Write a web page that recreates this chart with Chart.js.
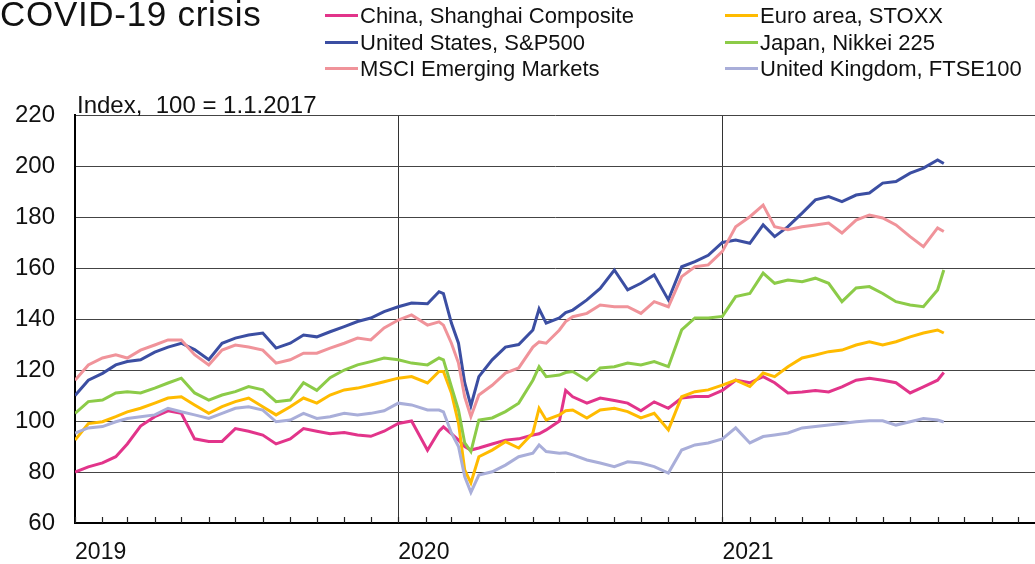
<!DOCTYPE html>
<html>
<head>
<meta charset="utf-8">
<script src="https://cdn.jsdelivr.net/npm/chart.js@4.4.0/dist/chart.umd.min.js"></script>
<style>
  html, body { margin: 0; padding: 0; background: #fff; }
  body { width: 1035px; height: 564px; overflow: hidden; position: relative; font-family: 'Liberation Sans', Arial, sans-serif; color: #111; }
  #wrap { position: absolute; left: -19px; top: 0; width: 1054px; height: 582px; }
  #title { position: absolute; left: 0; top: -6px; font-size: 35px; letter-spacing: 0.7px; white-space: nowrap; }
  #unit { position: absolute; left: 77px; top: 91px; font-size: 24px; white-space: nowrap; }
  .leg { position: absolute; font-size: 22px; white-space: nowrap; line-height: 26px; }
  .leg span.sw { display: inline-block; width: 33px; height: 3px; vertical-align: middle; margin-right: 2px; position: relative; top: -2px; }
</style>
</head>
<body>
<div id="wrap"><canvas id="chart" width="1054" height="582"></canvas></div>
<div id="title">COVID-19 crisis</div>
<div id="unit">Index,&nbsp; 100 = 1.1.2017</div>
<div id="legend"></div>
<script>
// semi-monthly observation dates (plus a few extra around the crash)
const dates = [
  "2019-01-01","2019-01-16","2019-02-01","2019-02-16","2019-03-01","2019-03-16","2019-04-01","2019-04-16",
  "2019-05-01","2019-05-16","2019-06-01","2019-06-16","2019-07-01","2019-07-16","2019-08-01","2019-08-16",
  "2019-09-01","2019-09-16","2019-10-01","2019-10-16","2019-11-01","2019-11-16","2019-12-01","2019-12-16",
  "2020-01-01","2020-01-16","2020-02-03","2020-02-16","2020-02-21","2020-03-01","2020-03-09","2020-03-16",
  "2020-03-23","2020-04-01","2020-04-16","2020-05-01","2020-05-16","2020-06-01","2020-06-08","2020-06-16",
  "2020-07-01","2020-07-08","2020-07-16","2020-08-01","2020-08-16","2020-09-01","2020-09-16","2020-10-01","2020-10-16",
  "2020-11-01","2020-11-16","2020-12-01","2020-12-16",
  "2021-01-01","2021-01-16","2021-02-01","2021-02-16","2021-03-01","2021-03-16","2021-04-01","2021-04-16",
  "2021-05-01","2021-05-16","2021-06-01","2021-06-16","2021-07-01","2021-07-16","2021-08-01","2021-08-16",
  "2021-09-01","2021-09-08"
];

const china = [
  80, 82, 83.6, 86, 91, 98, 101.7, 104, 103, 93, 92, 92, 97, 96, 94.5, 91, 93, 97, 96, 95, 95.5, 94.5, 94, 96,
  99, 100, 88.5, 96, 97.7, 95, 92.5, 90, 88.6, 89.4, 91, 92.5, 93, 94.5, 95, 96.5, 100, 112, 109.5, 107, 109, 108, 107, 104, 107.5,
  105, 109, 109.6, 109.6,
  112, 116, 115, 117.4, 115, 111, 111.4, 112, 111.4, 113.4, 116, 116.8, 116, 115, 111, 113.4, 116, 119
];
const usa = [
  110, 116, 118.7, 122, 123.3, 124, 127, 129, 130.5, 128, 124, 130.5, 132.5, 133.7, 134.5, 128.6, 130.5, 133.7, 133, 135, 137, 139, 140.4, 142.9,
  144.8, 146.3, 146, 150.7, 150, 138.4, 130.5, 115, 106, 117.4, 124, 129, 130, 135.7, 144, 138.4, 140.4, 142.5, 143.5, 147.5, 152, 159.2, 151.4, 154, 157.3,
  147.5, 160.5, 162.5, 165,
  170, 171, 169.7, 176.9, 172.3, 176.2, 181.5, 186.7, 188, 186, 188.6, 189.4, 193.3, 193.9, 197.2, 199.2, 202.4, 201
];
const msci = [
  116, 122, 124.7, 126, 124.7, 127.8, 129.8, 131.8, 131.8, 126, 122, 127.8, 129.8, 129, 127.8, 122.7, 124, 126.6, 126.6, 128.6, 130.5, 132.5, 131.8, 136.5,
  139.6, 141.6, 137.6, 138.9, 137.6, 130.5, 122.7, 109.5, 101.7, 110.2, 114, 118.8, 120.8, 129, 131, 130.5, 135.7, 139, 140.9, 142.2, 145.5, 144.8, 144.8, 142.2, 146.8,
  144.8, 156.6, 160.5, 161.2,
  166.5, 176.2, 180.1, 184.7, 176.2, 175, 176.2, 176.9, 177.6, 173.7, 178.8, 180.8, 179.6, 176.9, 172.3, 168.4, 175.7, 174.3
];
const euro = [
  92.5, 99, 99.7, 101.7, 103.6, 105, 107, 109, 109.5, 106.3, 103, 105.6, 107.6, 109, 105.6, 102.4, 105.6, 109, 107, 110.2, 112.2, 112.9, 114.1, 115.4,
  116.8, 117.4, 114.9, 119.4, 119.4, 111, 99.2, 80.8, 75.7, 86, 88.6, 91.9, 89.4, 95.3, 105, 100.4, 102.4, 104, 104.3, 101.2, 104.3, 105, 103.7, 101.2, 103,
  96.5, 109.5, 111.5, 112.2,
  114.1, 116, 113.5, 118.8, 117.4, 121.3, 124.7, 125.9, 127.2, 127.8, 129.8, 131.1, 129.8, 131.1, 133, 134.5, 135.7, 134.5
];
const japan = [
  103, 107.6, 108.2, 111, 111.5, 111, 112.9, 114.9, 116.8, 111, 108.2, 110.2, 111.5, 113.5, 112.2, 107.6, 108.2, 115, 112, 117, 120, 122, 123.3, 124.7,
  124, 122.7, 122, 124.7, 124, 113.5, 104.3, 91.4, 88, 100.4, 101.2, 103.7, 107, 116, 121.3, 117.4, 118, 119, 119.4, 116, 120.8, 121.3, 122.7, 122, 123.3,
  121.3, 135.7, 140.4, 140.4,
  141, 148.8, 150, 158, 154, 155.3, 154.6, 156, 154, 146.8, 152.2, 152.7, 150, 146.8, 145.5, 144.8, 151.4, 159.2
];
const uk = [
  95.3, 97.3, 97.8, 99.7, 101, 101.7, 102.4, 105, 103.6, 102.4, 101, 103, 105, 105.6, 104.3, 99.7, 100.4, 103, 101, 101.7, 103, 102.4, 103, 104,
  107, 106.3, 104.3, 104.3, 103.6, 95.3, 90, 78.2, 72, 78.8, 80.1, 82.7, 86, 87.4, 90.6, 88, 87.4, 87.5, 86.7, 84.7, 83.5, 82.1, 84, 83.5, 82.1,
  79.6, 88.6, 90.6, 91.4,
  93, 97.3, 91.4, 93.9, 94.5, 95.3, 97.3, 97.8, 98.4, 99, 99.7, 100.1, 100.1, 98.4, 99.7, 101, 100.4, 99.6
];

const seriesNames = [
  "China, Shanghai Composite", "United States, S&P500", "MSCI Emerging Markets",
  "Euro area, STOXX", "Japan, Nikkei 225", "United Kingdom, FTSE100"
];
const seriesValues = [china, usa, msci, euro, japan, uk];
const seriesColors = ["#e2348a", "#3b4ea2", "#f0939a", "#ffbb00", "#8ccb48", "#a9aed9"];

const yearLabels = ["2019", "2020", "2021"];
const yearStarts = ["2019-01-01", "2020-01-01", "2021-01-01"];

const DAY0 = Date.UTC(2019, 0, 1);
function dayOf(s) {
  const p = s.split("-").map(Number);
  return (Date.UTC(p[0], p[1] - 1, p[2]) - DAY0) / 86400000;
}
const days = dates.map(dayOf);
const yearDays = yearStarts.map(dayOf);
const monthDays = [];
for (let y = 2019; y <= 2021; y++) for (let m = 1; m <= 12; m++) monthDays.push(dayOf(y + "-" + m + "-1"));

// legend (two columns, same layout as the original)
const legendPos = [[325, 3], [325, 30], [325, 56], [725, 3], [725, 30], [725, 56]];
const legendEl = document.getElementById("legend");
seriesNames.forEach((name, i) => {
  const d = document.createElement("div");
  d.className = "leg";
  d.style.left = legendPos[i][0] + "px";
  d.style.top = legendPos[i][1] + "px";
  d.innerHTML = '<span class="sw" style="background:' + seriesColors[i] + '"></span>';
  d.appendChild(document.createTextNode(name));
  legendEl.appendChild(d);
});

// small month ticks pointing up from the x axis
const monthTicks = {
  id: "monthTicks",
  afterDraw(chart) {
    const ctx = chart.ctx, xs = chart.scales.x, ca = chart.chartArea;
    ctx.save();
    ctx.strokeStyle = "#222";
    ctx.lineWidth = 1.2;
    monthDays.forEach(d => {
      if (d < xs.min || d > xs.max) return;
      const px = Math.round(xs.getPixelForValue(d)) + 0.5;
      ctx.beginPath();
      ctx.moveTo(px, ca.bottom);
      ctx.lineTo(px, ca.bottom - 6);
      ctx.stroke();
    });
    ctx.restore();
  }
};

Chart.defaults.font.family = "'Liberation Sans', Arial, sans-serif";
Chart.defaults.color = "#111";

new Chart(document.getElementById("chart"), {
  type: "line",
  data: {
    datasets: seriesNames.map((name, i) => ({
      label: name,
      data: days.map((d, k) => ({ x: d, y: seriesValues[i][k] })),
      borderColor: seriesColors[i],
      backgroundColor: seriesColors[i],
      borderWidth: 3,
      pointRadius: 0,
      tension: 0,
      order: 6 - i
    }))
  },
  options: {
    responsive: false,
    animation: false,
    events: [],
    layout: { padding: { left: 14, top: 115, right: 0, bottom: 0 } },
    plugins: { legend: { display: false }, tooltip: { enabled: false } },
    scales: {
      x: {
        type: "linear",
        min: 0,
        max: 1084,
        afterBuildTicks: axis => { axis.ticks = yearDays.map(v => ({ value: v })); },
        ticks: {
          callback: v => yearLabels[yearDays.indexOf(v)] || "",
          align: "start",
          maxRotation: 0,
          autoSkip: false,
          padding: 18,
          font: { size: 23, lineHeight: 1 },
          color: "#111"
        },
        grid: { color: "#333", lineWidth: 1, drawTicks: false },
        border: { display: true, color: "#000", width: 2 }
      },
      y: {
        min: 60,
        max: 220,
        ticks: { stepSize: 20, padding: 20, font: { size: 24 }, color: "#111" },
        grid: { color: "#444", lineWidth: 1, drawTicks: false },
        border: { display: true, color: "#000", width: 2 }
      }
    }
  },
  plugins: [monthTicks]
});
</script>
</body>
</html>
